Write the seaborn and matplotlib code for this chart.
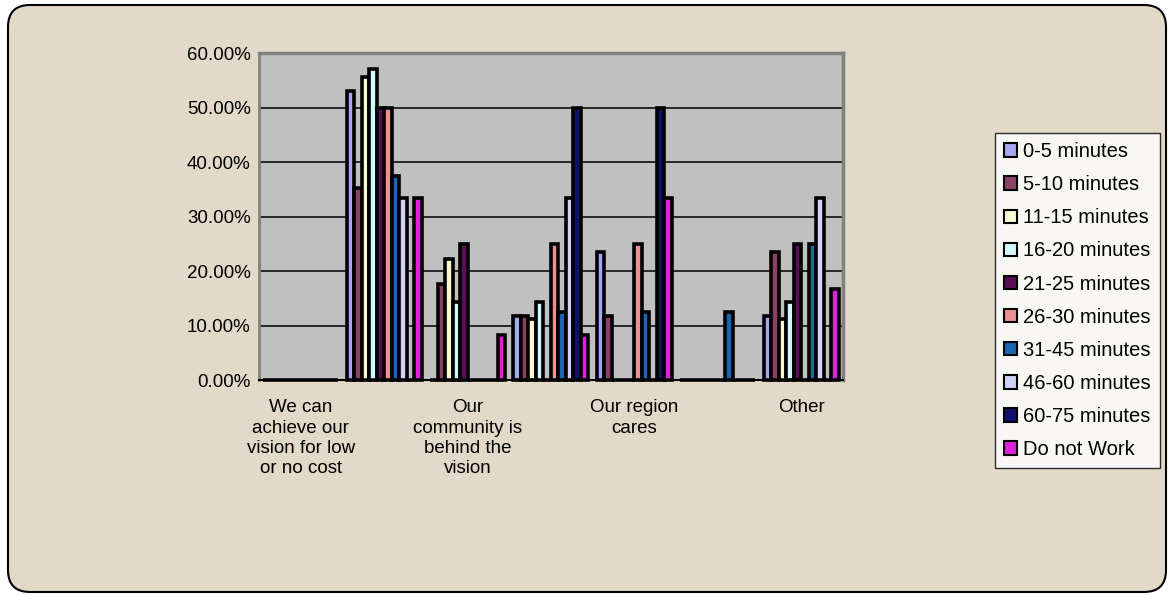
import pandas as pd
import numpy as np
import seaborn as sns
import matplotlib.pyplot as plt
from matplotlib.patches import FancyBboxPatch
from matplotlib.ticker import PercentFormatter, FixedLocator

# categories (only every other one gets a label on the chart)
categories = ['We can\nachieve our\nvision for low\nor no cost',
              'Cost 2',
              'Our\ncommunity is\nbehind the\nvision',
              'Cost 4',
              'Our region\ncares',
              'Cost 6',
              'Other']
shown_labels = [categories[0], '', categories[2], '', categories[4], '', categories[6]]

commute = ['0-5 minutes', '5-10 minutes', '11-15 minutes', '16-20 minutes',
           '21-25 minutes', '26-30 minutes', '31-45 minutes', '46-60 minutes',
           '60-75 minutes', 'Do not Work']

colors = ['#9999FF', '#993366', '#FFFFCC', '#CCFFFF', '#660066',
          '#FF8080', '#0066CC', '#CCCCFF', '#000080', '#FF00FF']

# share of respondents per category, one list per commute group
v_0_5   = [0, 0.5294, 0,      0.1176, 0.2353, 0,     0.1176]
v_5_10  = [0, 0.3529, 0.1765, 0.1176, 0.1176, 0,     0.2353]
v_11_15 = [0, 0.5556, 0.2222, 0.1111, 0,      0,     0.1111]
v_16_20 = [0, 0.5714, 0.1429, 0.1429, 0,      0,     0.1429]
v_21_25 = [0, 0.50,   0.25,   0,      0,      0,     0.25]
v_26_30 = [0, 0.50,   0,      0.25,   0.25,   0,     0]
v_31_45 = [0, 0.375,  0,      0.125,  0.125,  0.125, 0.25]
v_46_60 = [0, 0.3333, 0,      0.3333, 0,      0,     0.3333]
v_60_75 = [0, 0,      0,      0.50,   0.50,   0,     0]
v_dnw   = [0, 0.3333, 0.0833, 0.0833, 0.3333, 0,     0.1667]

series = [v_0_5, v_5_10, v_11_15, v_16_20, v_21_25,
          v_26_30, v_31_45, v_46_60, v_60_75, v_dnw]

rows = []
for name, vals in zip(commute, series):
    for cat, v in zip(categories, vals):
        rows.append({'Category': cat, 'Commute': name, 'Share': v})
df = pd.DataFrame(rows)

sns.set_style('white')
plt.rcParams['font.family'] = ['Liberation Sans', 'DejaVu Sans']
plt.rcParams['text.color'] = 'black'
plt.rcParams['xtick.color'] = 'black'
plt.rcParams['ytick.color'] = 'black'

fig = plt.figure(figsize=(11.7, 5.95), dpi=100)
fig.patch.set_facecolor('white')

# rounded beige backdrop
bg = FancyBboxPatch((0.08, 0.03), 11.58, 5.87,
                    boxstyle='round,pad=0.0,rounding_size=0.22',
                    transform=fig.dpi_scale_trans, facecolor='#E2D9C8',
                    edgecolor='black', linewidth=1.5, zorder=-10)
fig.patches.append(bg)

ax = fig.add_axes([0.2214, 0.3613, 0.499, 0.5496])
ax.set_facecolor('#C0C0C0')

sns.barplot(data=df, x='Category', y='Share', hue='Commute',
            order=categories, hue_order=commute, palette=colors,
            width=0.9, gap=0, edgecolor='black', linewidth=2.6,
            errorbar=None, legend=True, ax=ax, zorder=3)
for bar in ax.patches:
    bar.set_clip_on(False)

ax.set_ylim(0, 0.6)
ax.set_xlim(-0.5, len(categories) - 0.5)
ax.set_yticks(np.arange(0, 0.61, 0.1))
ax.yaxis.set_major_formatter(PercentFormatter(1, decimals=2))
ax.yaxis.grid(True, color='black', linewidth=1.1, zorder=0)
ax.set_axisbelow(True)

ax.set_xticks(range(len(categories)))
ax.set_xticklabels(shown_labels, fontsize=13.5, linespacing=1.25)
ax.xaxis.set_minor_locator(FixedLocator(np.arange(-0.5, len(categories), 1)))
ax.tick_params(axis='x', which='major', length=0, pad=14)
ax.tick_params(axis='x', which='minor', length=6, color='black', width=1)
ax.tick_params(axis='y', length=5, color='black', width=1, labelsize=13.5, pad=1)
ax.set_xlabel('')
ax.set_ylabel('')

for side in ['top', 'right']:
    ax.spines[side].set_color('#808080')
    ax.spines[side].set_linewidth(2.5)
ax.spines['left'].set_color('#808080')
ax.spines['left'].set_linewidth(2)
ax.spines['bottom'].set_color('black')
ax.spines['bottom'].set_linewidth(1.5)

leg = ax.legend(loc='upper left', bbox_to_anchor=(1.261, 0.755),
                frameon=True, fancybox=False, fontsize=14.5,
                labelspacing=0.7, handlelength=0.65, handleheight=0.65,
                handletextpad=0.3, borderpad=0.45, borderaxespad=0)
leg.get_frame().set_edgecolor('black')
leg.get_frame().set_linewidth(1)
leg.get_frame().set_facecolor('white')
for h in leg.legend_handles:
    h.set_edgecolor('black')
    h.set_linewidth(1.5)

fig.savefig('out.png', dpi=100, facecolor=fig.get_facecolor())
